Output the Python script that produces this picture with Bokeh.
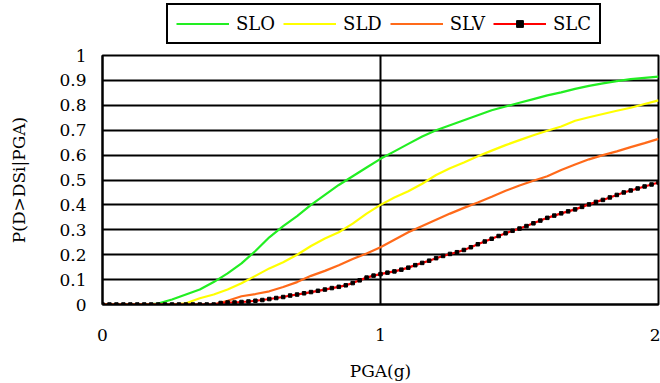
from bokeh.plotting import figure
from bokeh.layouts import column
from bokeh.models import Legend, LegendItem, Range1d, FixedTicker
from bokeh.embed import file_html
from bokeh.resources import INLINE

# ---- data ----
pga = [0.00, 0.05, 0.10, 0.15, 0.20, 0.25, 0.30, 0.35, 0.40, 0.45, 0.50, 0.55, 0.60, 0.65,
       0.70, 0.75, 0.80, 0.85, 0.90, 0.95, 1.00, 1.05, 1.10, 1.15, 1.20, 1.25, 1.30, 1.35,
       1.40, 1.45, 1.50, 1.55, 1.60, 1.65, 1.70, 1.75, 1.80, 1.85, 1.90, 1.95, 2.00]
slo = [0, 0, 0, 0, 0.004, 0.02, 0.04, 0.06, 0.09, 0.125, 0.165, 0.215, 0.27, 0.315,
       0.355, 0.40, 0.44, 0.48, 0.515, 0.55, 0.585, 0.615, 0.645, 0.675, 0.70, 0.72, 0.74, 0.76,
       0.78, 0.795, 0.81, 0.825, 0.84, 0.852, 0.866, 0.878, 0.888, 0.897, 0.905, 0.91, 0.915]
sld = [0, 0, 0, 0, 0, 0, 0.005, 0.025, 0.04, 0.06, 0.085, 0.115, 0.145, 0.17,
       0.20, 0.235, 0.265, 0.29, 0.325, 0.365, 0.40, 0.43, 0.455, 0.485, 0.52, 0.547, 0.57, 0.595,
       0.618, 0.64, 0.66, 0.68, 0.698, 0.715, 0.738, 0.752, 0.765, 0.778, 0.79, 0.805, 0.82]
slv = [0, 0, 0, 0, 0, 0, 0, 0, 0, 0.015, 0.033, 0.042, 0.053, 0.07,
       0.09, 0.115, 0.135, 0.158, 0.183, 0.205, 0.23, 0.26, 0.29, 0.315, 0.34, 0.365, 0.388, 0.41,
       0.433, 0.457, 0.478, 0.497, 0.515, 0.54, 0.562, 0.583, 0.60, 0.615, 0.632, 0.648, 0.665]

pga_c = [0.000, 0.025, 0.050, 0.075, 0.100, 0.125, 0.150, 0.175, 0.200, 0.225, 0.250, 0.275,
         0.300, 0.325, 0.350, 0.375, 0.400, 0.425, 0.450, 0.475, 0.500, 0.525, 0.550, 0.575,
         0.600, 0.625, 0.650, 0.675, 0.700, 0.725, 0.750, 0.775, 0.800, 0.825, 0.850, 0.875,
         0.900, 0.925, 0.950, 0.975, 1.000, 1.025, 1.050, 1.075, 1.100, 1.125, 1.150, 1.175,
         1.200, 1.225, 1.250, 1.275, 1.300, 1.325, 1.350, 1.375, 1.400, 1.425, 1.450, 1.475,
         1.500, 1.525, 1.550, 1.575, 1.600, 1.625, 1.650, 1.675, 1.700, 1.725, 1.750, 1.775,
         1.800, 1.825, 1.850, 1.875, 1.900, 1.925, 1.950, 1.975, 2.000]
slc = [0, 0, 0, 0, 0, 0, 0, 0, 0, 0, 0, 0,
       0, 0, 0, 0, 0, 0.006, 0.008, 0.008, 0.010, 0.012, 0.015, 0.018,
       0.022, 0.026, 0.030, 0.036, 0.040, 0.045, 0.050, 0.055, 0.060, 0.066, 0.071, 0.077,
       0.086, 0.097, 0.108, 0.116, 0.122, 0.128, 0.133, 0.140, 0.148, 0.158, 0.167, 0.176,
       0.186, 0.195, 0.203, 0.210, 0.219, 0.230, 0.242, 0.253, 0.264, 0.275, 0.286, 0.296,
       0.305, 0.315, 0.326, 0.337, 0.348, 0.357, 0.366, 0.374, 0.382, 0.392, 0.402, 0.412,
       0.420, 0.430, 0.440, 0.450, 0.458, 0.466, 0.474, 0.482, 0.490]

series_names = ["SLO", "SLD", "SLV", "SLC"]
x_ticks = [0, 1, 2]
y_ticks = [0, 0.1, 0.2, 0.3, 0.4, 0.5, 0.6, 0.7, 0.8, 0.9, 1]
x_title = "PGA(g)"
y_title = "P(D>DSi|PGA)"

FONT = "DejaVu Serif"
FSIZE = "17px"
COLORS = ["#22EE22", "#FFFF00", "#FF6A1A", "#FF0000"]

# ---------------- main chart ----------------
p = figure(width=660, height=338, output_backend="svg", toolbar_location=None,
           x_range=Range1d(0, 2), y_range=Range1d(0, 1),
           min_border_left=102, min_border_right=2, min_border_top=10, min_border_bottom=79)

p.outline_line_color = "black"
p.outline_line_width = 2
p.background_fill_color = "white"
p.border_fill_color = "white"

p.xaxis.ticker = FixedTicker(ticks=x_ticks)
p.yaxis.ticker = FixedTicker(ticks=y_ticks)
p.yaxis.major_label_overrides = {0: "0", 1: "1"}
p.xaxis.major_label_overrides = {0: "0", 1: "1", 2: "2"}

for ax in (p.xaxis, p.yaxis):
    ax.axis_line_color = "black"
    ax.axis_line_width = 2
    ax.major_tick_out = 0
    ax.major_tick_in = 0
    ax.minor_tick_out = 0
    ax.minor_tick_in = 0
    ax.major_label_text_font = FONT
    ax.major_label_text_font_size = FSIZE
    ax.major_label_text_color = "black"
    ax.axis_label_text_font = FONT
    ax.axis_label_text_font_size = FSIZE
    ax.axis_label_text_font_style = "normal"
    ax.axis_label_text_color = "black"

p.xaxis.axis_label = x_title
p.yaxis.axis_label = y_title
p.xaxis.major_label_standoff = 24
p.yaxis.major_label_standoff = 16
p.xaxis.axis_label_standoff = 17
p.yaxis.axis_label_standoff = 27

p.xgrid.grid_line_color = "black"
p.xgrid.grid_line_width = 2
p.ygrid.grid_line_color = "black"
p.ygrid.grid_line_width = 2

p.line(pga, slo, line_color=COLORS[0], line_width=2.2)
p.line(pga, sld, line_color=COLORS[1], line_width=2.2)
p.line(pga, slv, line_color=COLORS[2], line_width=2.2)
p.line(pga_c, slc, line_color=COLORS[3], line_width=2.2)
p.scatter(pga_c, slc, marker="square", size=3.5, fill_color="black", line_color="black")

# ---------------- legend strip on top ----------------
lg = figure(width=660, height=45, output_backend="svg", toolbar_location=None,
            x_range=Range1d(10, 11), y_range=Range1d(10, 11),
            min_border_left=0, min_border_right=0, min_border_top=0, min_border_bottom=0)
lg.axis.visible = False
lg.grid.visible = False
lg.outline_line_color = None
lg.background_fill_color = "white"
lg.border_fill_color = "white"

d_slo = lg.line(pga, slo, line_color=COLORS[0], line_width=2.2)
d_sld = lg.line(pga, sld, line_color=COLORS[1], line_width=2.2)
d_slv = lg.line(pga, slv, line_color=COLORS[2], line_width=2.2)
d_slc = lg.line(pga_c, slc, line_color=COLORS[3], line_width=2.2)
d_slc_m = lg.scatter(pga_c, slc, marker="square", size=3.5, fill_color="black",
                     line_color="black")

legend = Legend(items=[
    LegendItem(label=series_names[0], renderers=[d_slo]),
    LegendItem(label=series_names[1], renderers=[d_sld]),
    LegendItem(label=series_names[2], renderers=[d_slv]),
    LegendItem(label=series_names[3], renderers=[d_slc, d_slc_m]),
], orientation="horizontal", location=(64, 1))
legend.label_text_font = FONT
legend.label_text_font_size = "18px"
legend.label_text_color = "black"
legend.glyph_width = 53
legend.glyph_height = 17
legend.label_standoff = 7
legend.spacing = 8
legend.padding = 8
legend.margin = 0
legend.border_line_color = "black"
legend.border_line_width = 2
legend.border_line_alpha = 1
legend.background_fill_color = "white"
legend.background_fill_alpha = 1
lg.add_layout(legend, "center")

layout = column(lg, p, spacing=0)
open("out.html", "w").write(file_html(layout, INLINE))
